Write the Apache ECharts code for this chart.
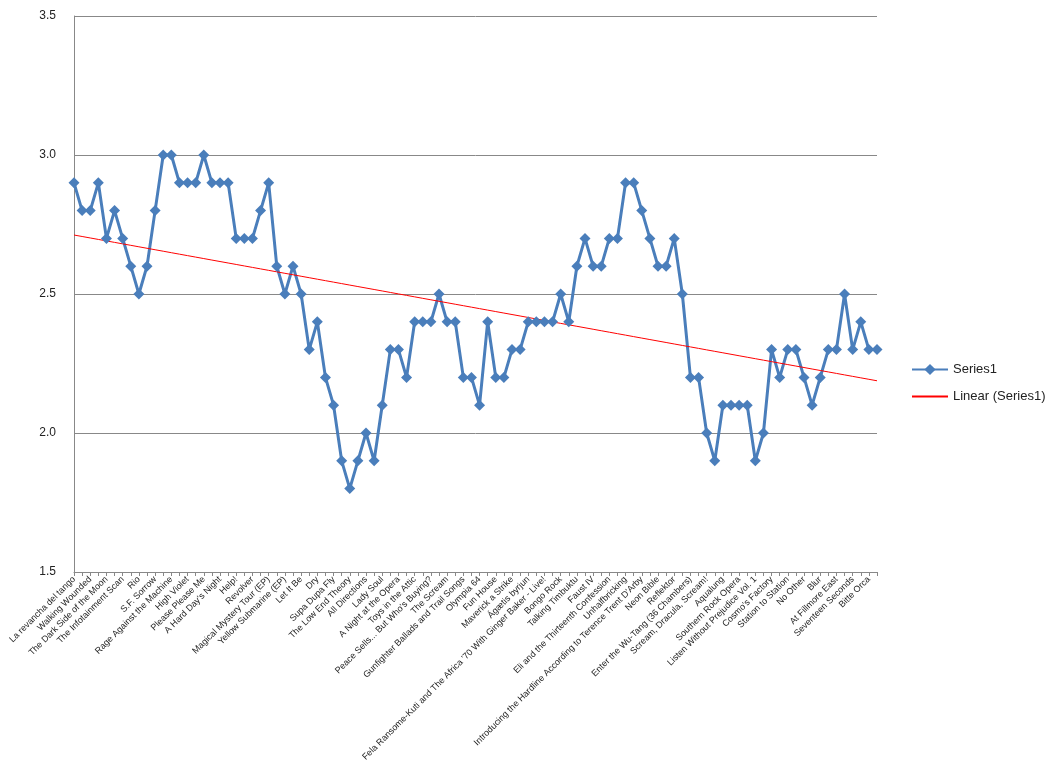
<!DOCTYPE html>
<html>
<head>
<meta charset="utf-8">
<script src="https://cdn.jsdelivr.net/npm/echarts@6/dist/echarts.min.js"></script>
<style>
  html, body { margin: 0; padding: 0; background: #fff; }
  #chart { width: 1053px; height: 765px; }
</style>
</head>
<body>
<div id="chart"></div>
<script>
// labelled albums (every other point carries a label)
const labelledAlbums = [
  "La revancha del tango", "Walking Wounded", "The Dark Side of the Moon", "The Infotainment Scan",
  "Rio", "S.F. Sorrow", "Rage Against the Machine", "High Violet", "Please Please Me",
  "A Hard Day's Night", "Help!", "Revolver", "Magical Mystery Tour (EP)", "Yellow Submarine (EP)",
  "Let It Be", "Dry", "Supa Dupa Fly", "The Low End Theory", "All Directions", "Lady Soul",
  "A Night at the Opera", "Toys in the Attic", "Peace Sells... But Who's Buying?", "The Scream",
  "Gunfighter Ballads and Trail Songs", "Olympia 64", "Fun House", "Maverick a Strike",
  "Ágætis byrjun", "Fela Ransome-Kuti and The Africa '70 With Ginger Baker - Live!", "Bongo Rock",
  "Talking Timbuktu", "Faust IV", "Eli and the Thirteenth Confession", "Unhalfbricking",
  "Introducing the Hardline According to Terence Trent D'Arby", "Neon Bible", "Reflektor",
  "Enter the Wu-Tang (36 Chambers)", "Scream, Dracula, Scream!", "Aqualung", "Southern Rock Opera",
  "Listen Without Prejudice Vol. 1", "Cosmo's Factory", "Station to Station", "No Other", "Blur",
  "At Fillmore East", "Seventeen Seconds", "Bitte Orca"
];

const series1 = [
  2.9, 2.8, 2.8, 2.9, 2.7, 2.8, 2.7, 2.6, 2.5, 2.6,
  2.8, 3.0, 3.0, 2.9, 2.9, 2.9, 3.0, 2.9, 2.9, 2.9,
  2.7, 2.7, 2.7, 2.8, 2.9, 2.6, 2.5, 2.6, 2.5, 2.3,
  2.4, 2.2, 2.1, 1.9, 1.8, 1.9, 2.0, 1.9, 2.1, 2.3,
  2.3, 2.2, 2.4, 2.4, 2.4, 2.5, 2.4, 2.4, 2.2, 2.2,
  2.1, 2.4, 2.2, 2.2, 2.3, 2.3, 2.4, 2.4, 2.4, 2.4,
  2.5, 2.4, 2.6, 2.7, 2.6, 2.6, 2.7, 2.7, 2.9, 2.9,
  2.8, 2.7, 2.6, 2.6, 2.7, 2.5, 2.2, 2.2, 2.0, 1.9,
  2.1, 2.1, 2.1, 2.1, 1.9, 2.0, 2.3, 2.2, 2.3, 2.3,
  2.2, 2.1, 2.2, 2.3, 2.3, 2.5, 2.3, 2.4, 2.3, 2.3
];

const yTicks = [1.5, 2.0, 2.5, 3.0, 3.5];

const categories = series1.map((v, i) => i % 2 === 0 ? labelledAlbums[i / 2] : '');

// least squares trend, like Excel's linear trendline
function linearTrend(values) {
  const n = values.length;
  let sx = 0, sy = 0, sxy = 0, sxx = 0;
  values.forEach((y, x) => { sx += x; sy += y; sxy += x * y; sxx += x * x; });
  const slope = (n * sxy - sx * sy) / (n * sxx - sx * sx);
  const icpt = (sy - slope * sx) / n;
  return values.map((v, x) => icpt + slope * x);
}

const chart = echarts.init(document.getElementById('chart'));
const font = 'Liberation Sans';

chart.setOption({
  animation: false,
  textStyle: { fontFamily: font },
  grid: { left: 74, right: 176, top: 16, bottom: 193 },
  legend: {
    orient: 'vertical',
    left: 906,
    top: 358,
    itemGap: 14,
    itemWidth: 36,
    textStyle: { fontSize: 13, color: '#222', fontFamily: font },
    data: [
      { name: 'Series1' },
      { name: 'Linear (Series1)', itemStyle: { opacity: 0 } }
    ]
  },
  xAxis: {
    type: 'category',
    data: categories,
    boundaryGap: false,
    axisLine: { lineStyle: { color: '#888' } },
    axisTick: { show: true, interval: 0, length: 4, lineStyle: { color: '#888' } },
    axisLabel: {
      interval: 0,
      rotate: 45,
      fontSize: 9,
      color: '#222',
      margin: 6
    }
  },
  yAxis: {
    type: 'value',
    min: yTicks[0],
    max: yTicks[yTicks.length - 1],
    interval: 0.5,
    axisLine: { show: true, lineStyle: { color: '#888' } },
    axisTick: { show: false },
    splitLine: { lineStyle: { color: '#888' } },
    axisLabel: { fontSize: 12, color: '#222', margin: 18, formatter: v => v.toFixed(1) }
  },
  series: [
    {
      name: 'Series1',
      type: 'line',
      data: series1,
      symbol: 'diamond',
      symbolSize: 11,
      lineStyle: { color: '#4a7ebb', width: 3 },
      itemStyle: { color: '#4a7ebb' }
    },
    {
      name: 'Linear (Series1)',
      type: 'line',
      data: linearTrend(series1),
      symbol: 'none',
      lineStyle: { color: '#ff0000', width: 1 },
      itemStyle: { color: '#ff0000' }
    }
  ]
});
</script>
</body>
</html>
